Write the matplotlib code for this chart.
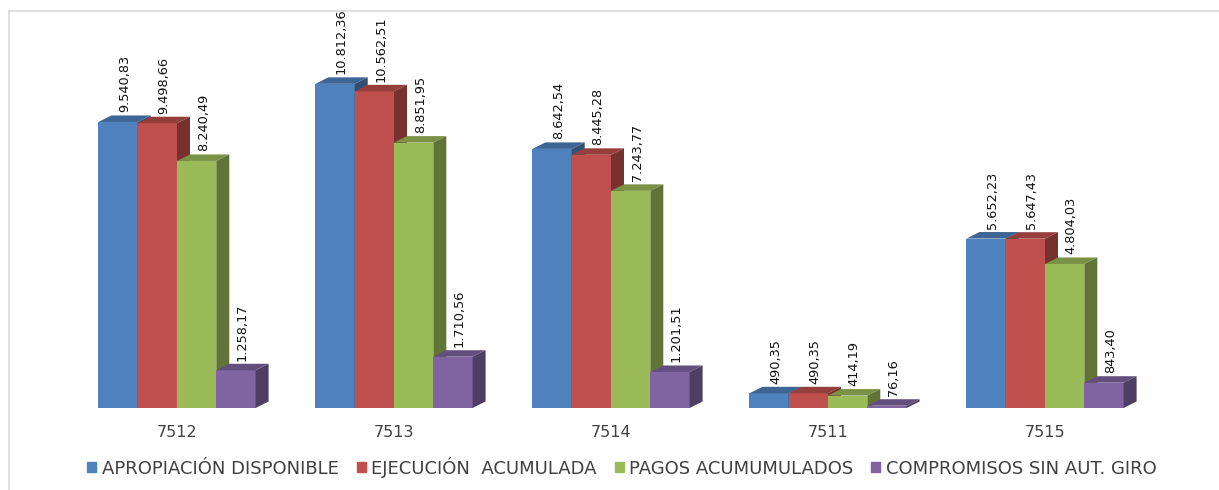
import matplotlib
matplotlib.use("Agg")
import matplotlib.pyplot as plt
from matplotlib.patches import Polygon
from matplotlib.lines import Line2D
import matplotlib.colors as mcolors

categories = ["7512", "7513", "7514", "7511", "7515"]
series_names = ["APROPIACIÓN DISPONIBLE", "EJECUCIÓN  ACUMULADA",
                "PAGOS ACUMUMULADOS", "COMPROMISOS SIN AUT. GIRO"]
apropiacion = [9540.83, 10812.36, 8642.54, 490.35, 5652.23]
ejecucion = [9498.66, 10562.51, 8445.28, 490.35, 5647.43]
pagos = [8240.49, 8851.95, 7243.77, 414.19, 4804.03]
compromisos = [1258.17, 1710.56, 1201.51, 76.16, 843.40]
colors = ["#4F81BD", "#C0504D", "#9BBB59", "#8064A2"]

W, H = 1219, 490
fig = plt.figure(figsize=(W / 100, H / 100), dpi=100)

# axes placed in pixel terms: baseline 82px from bottom, group spacing 217px
base_px = 82
px_per_unit = 0.02998
group_px = 217
first_px = 177
ax = fig.add_axes([0, base_px / H, 1, (H - base_px) / H])
ax.set_xlim(-first_px / group_px, (W - first_px) / group_px)
ax.set_ylim(0, (H - base_px) / px_per_unit)
ax.axis("off")

w = 39.3 / group_px          # bar width
dx = 13 / group_px           # depth offset in x
dy = 6.5 / px_per_unit       # depth offset in y
gap = 3 / px_per_unit


def fmt(v):
    s = f"{v:,.2f}"
    return s.replace(",", "X").replace(".", ",").replace("X", ".")


data = [apropiacion, ejecucion, pagos, compromisos]
for s, vals in enumerate(data):
    c = colors[s]
    rgb = mcolors.to_rgb(c)
    top_c = tuple(v * 0.78 for v in rgb)
    side_c = tuple(v * 0.62 for v in rgb)
    for g, h in enumerate(vals):
        x0 = g - 2 * w + s * w
        x1 = x0 + w
        z = 2 + s
        ax.bar(x0, h, width=w, align="edge", color=c, zorder=z, linewidth=0)
        ax.add_patch(Polygon([(x0, h), (x1, h), (x1 + dx, h + dy), (x0 + dx, h + dy)],
                             closed=True, color=top_c, zorder=z, linewidth=0))
        ax.add_patch(Polygon([(x1, 0), (x1 + dx, dy), (x1 + dx, h + dy), (x1, h)],
                             closed=True, color=side_c, zorder=z, linewidth=0))
        ax.text(x0 + w / 2 + dx / 2, h + dy + gap, fmt(h), rotation=90,
                ha="center", va="bottom", fontsize=9.3, color="#111111",
                zorder=10)

for g, cat in enumerate(categories):
    ax.text(g, -24 / px_per_unit, cat, ha="center", va="center",
            fontsize=11.5, color="#404040")

handles = [plt.Rectangle((0, 0), 1, 1, color=c) for c in colors]
fig.legend(handles, series_names, loc="center", ncol=4,
           bbox_to_anchor=(622 / W, 1 - 467 / H), frameon=False,
           fontsize=13, handlelength=0.5, handleheight=0.5,
           handletextpad=0.3, columnspacing=1.0, labelcolor="#404040")

# light chart border (top and left visible)
fig.add_artist(Line2D([9 / W, 1], [1 - 11 / H, 1 - 11 / H], color="#D9D9D9", lw=1.2))
fig.add_artist(Line2D([9 / W, 9 / W], [0, 1 - 11 / H], color="#D9D9D9", lw=1.2))

fig.savefig("out.png", dpi=100)
